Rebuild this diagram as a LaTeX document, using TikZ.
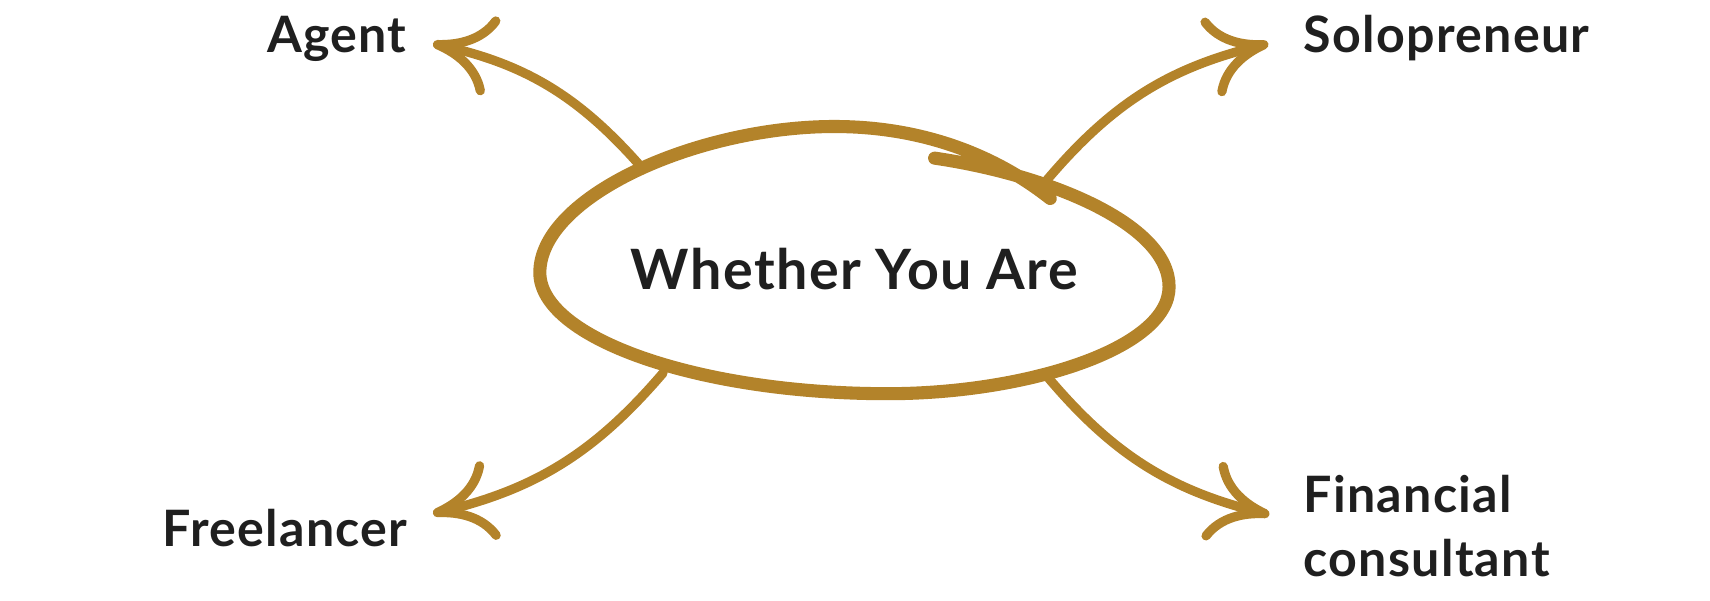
\documentclass[tikz,border=0pt]{standalone}
\usepackage{fontspec}
\setmainfont{Lato}[LetterSpace=2.6]
\usetikzlibrary{arrows.meta}

\definecolor{gold}{HTML}{B3832A}
\definecolor{ink}{HTML}{1F1F1F}

\tikzset{
	role/.style={text=ink, inner sep=0pt, font=\bfseries\fontsize{46}{59.5}\selectfont},
	spoke/.style={draw=gold, line width=8.5pt, line cap=round,
		-{To[length=56pt, width=74pt, round]}},
}

\begin{document}
\begin{tikzpicture}[x=1pt, y=-1pt]
	\useasboundingbox (0,0) rectangle (1568,551);

	% the hand drawn loop
	\draw [gold, line width=12pt, line cap=round]
		(857,145) .. controls (960,160) and (1072,205) .. (1072,263)
		.. controls (1072,320) and (940,361) .. (814,361)
		.. controls (640,361) and (495,310) .. (495,250)
		.. controls (495,180) and (640,116) .. (765,116)
		.. controls (860,116) and (925,152) .. (963,182);

	\node [text=ink, inner sep=0pt, font=\bfseries\fontsize{51}{60}\selectfont,
		anchor=base] (centre) at (783.5,265) {Whether You Are};

	\node [role, anchor=base east] (agent) at (373,47.7) {Agent};
	\node [role, anchor=base west] (solo) at (1195,47.7) {Solopreneur};
	\node [role, anchor=base east] (free) at (374,501) {Freelancer};
	\node [role, anchor=base west, align=left] (fin) at (1195,529) {Financial\\consultant};

	% where the spokes leave the loop and where they point
	\coordinate (agentFoot) at (587,152);
	\coordinate (soloFoot) at (960,165);
	\coordinate (freeFoot) at (608,342);
	\coordinate (finFoot) at (960,345);
	\coordinate (agentTip) at (397,40);
	\coordinate (soloTip) at (1163,40);
	\coordinate (freeTip) at (397,471);
	\coordinate (finTip) at (1164,472);

	\draw [spoke] (agentFoot) to [bend right=18] (agentTip);
	\draw [spoke] (soloFoot) to [bend left=18] (soloTip);
	\draw [spoke] (freeFoot) to [bend left=18] (freeTip);
	\draw [spoke] (finFoot) to [bend right=18] (finTip);
\end{tikzpicture}
\end{document}
